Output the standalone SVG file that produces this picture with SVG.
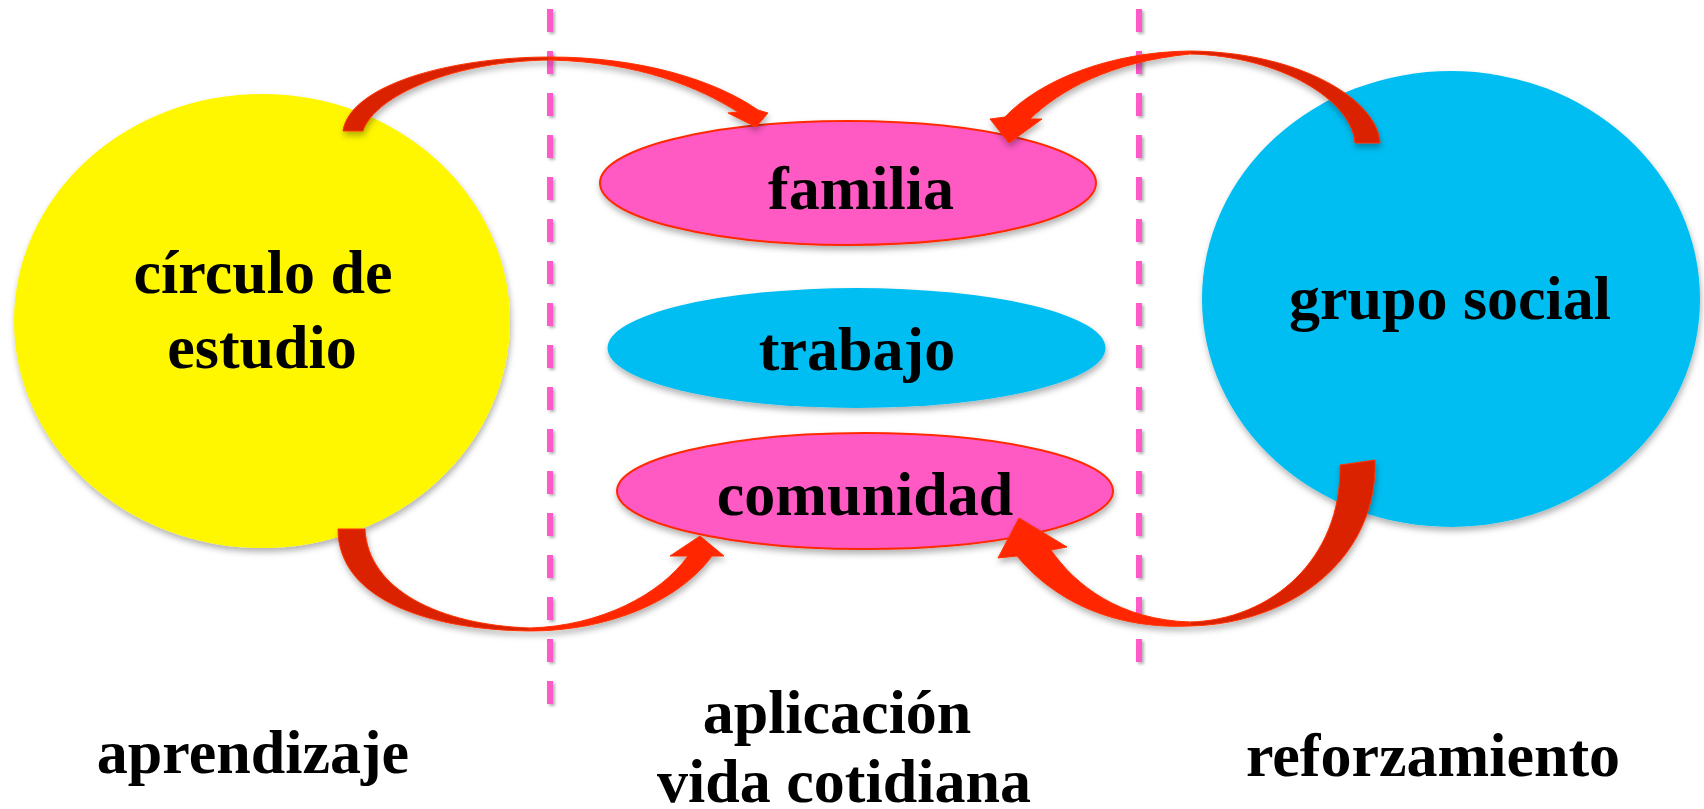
<svg xmlns="http://www.w3.org/2000/svg" width="1704" height="809" viewBox="0 0 1704 809">
<defs>
<filter id="sh" x="-10%" y="-10%" width="130%" height="130%">
<feDropShadow dx="1" dy="4" stdDeviation="3" flood-color="#000" flood-opacity="0.3"/>
</filter>
<filter id="shl" x="-50%" y="-5%" width="300%" height="110%">
<feDropShadow dx="2" dy="2" stdDeviation="1.5" flood-color="#000" flood-opacity="0.3"/>
</filter>
</defs>
<style>
.t{font-family:"Liberation Serif","Times New Roman",serif;font-weight:bold;font-size:62px;fill:#000;text-anchor:middle}
.dash{stroke:#FF5AC8;stroke-width:6;stroke-dasharray:23 19;fill:none}
.pk{fill:#FF5AC4;stroke:#FF2A00;stroke-width:2}
.bl{fill:#00BEF2}
.ye{fill:#FFF700}
.back{fill:#DA2200;stroke:#FF3300;stroke-width:1}
.front{fill:#FF2600;stroke:#FF3300;stroke-width:1}
</style>
<rect width="1704" height="809" fill="#fff"/>

<g id="circulo" filter="url(#sh)">
<ellipse class="ye" cx="262" cy="321" rx="248" ry="227"/>
</g>
<g id="grupo" filter="url(#sh)">
<ellipse class="bl" cx="1451" cy="299" rx="249" ry="228"/>
</g>
<g id="familia" filter="url(#sh)">
<ellipse class="pk" cx="848" cy="183" rx="248" ry="62"/>
</g>
<g id="trabajo" filter="url(#sh)">
<ellipse class="bl" cx="856.5" cy="348" rx="249" ry="60"/>
</g>
<g id="comunidad" filter="url(#sh)">
<ellipse class="pk" cx="865" cy="491" rx="248" ry="58"/>
</g>

<g id="dividers" filter="url(#shl)">
<line class="dash" x1="550" y1="9" x2="550" y2="704"/>
<line class="dash" x1="1139" y1="9" x2="1139" y2="663"/>
</g>

<g id="connectors" filter="url(#sh)">
<g id="a1">
<path class="back" d="M343,131 C350,85 450,57 550,57 L550,60 C455,61 375,95 363,131 Z"/>
<path class="front" d="M550,57 C640,57 715,80 758,110 L768,113 L756,127 L728,113 L738,112 C700,88 640,62 550,60 Z"/>
</g>
<g id="a2">
<path class="back" d="M1380,143 C1378,100 1300,52 1190,51 L1190,54 C1280,56 1352,100 1355,143 Z"/>
<path class="front" d="M1190,51 C1110,52 1040,80 1005,117 L990,119 L1009,143 L1042,119 L1030,119 C1060,90 1110,62 1190,54 Z"/>
</g>
<g id="a3">
<path class="back" d="M338,529 C338,600 430,630 530,631 L530,628 C440,625 368,590 365,529 Z"/>
<path class="front" d="M530,631 C610,631 680,600 712,556 L724,556 L700,536 L670,556 L688,556 C660,595 600,626 530,628 Z"/>
</g>
<g id="a4">
<path class="back" d="M1375,460 C1378,560 1290,624 1190,626 L1190,622 C1270,620 1342,560 1340,465 Z"/>
<path class="front" d="M1190,626 C1100,630 1045,590 1017,556 L998,558 L1019,518 L1067,547 L1051,550 C1075,585 1120,620 1190,622 Z"/>
</g>
</g>

<g id="labels">
<text class="t" x="263" y="293">círculo de</text>
<text class="t" x="262" y="368">estudio</text>
<text class="t" x="1450" y="319">grupo social</text>
<text class="t" x="861" y="209">familia</text>
<text class="t" x="857" y="370">trabajo</text>
<text class="t" x="865" y="515">comunidad</text>
<text class="t" x="253" y="773">aprendizaje</text>
<text class="t" x="837" y="733">aplicación</text>
<text class="t" x="844" y="802">vida cotidiana</text>
<text class="t" x="1433" y="776">reforzamiento</text>
</g>
</svg>
